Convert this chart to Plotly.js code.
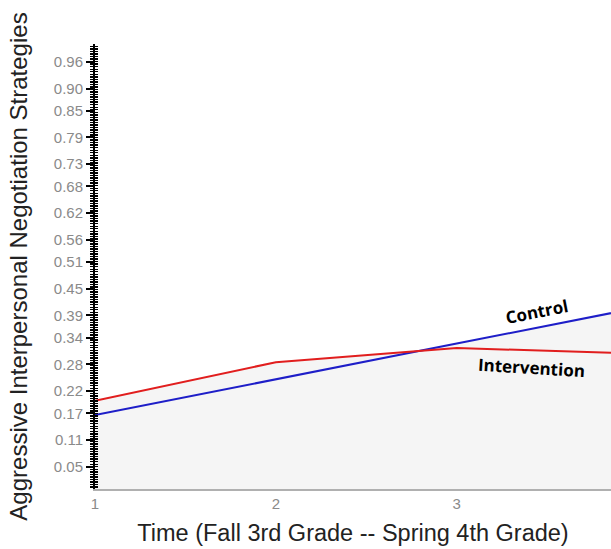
<!DOCTYPE html>
<html><head><meta charset="utf-8">
<script src="https://cdn.plot.ly/plotly-3.0.1.min.js"></script>
<style>html,body{margin:0;padding:0;background:#fff}#chart{width:611px;height:549px}</style>
</head><body><div id="chart"></div>
<script>
const timePoints = [1, 2, 3, 4];
const xTickLabels = ['1', '2', '3', '4'];
const controlValues = [0.166, 0.247, 0.327, 0.407];
const interventionValues = [0.198, 0.285, 0.317, 0.304];
const yTickLabels = ['0.05','0.11','0.17','0.22','0.28','0.34','0.39','0.45','0.51','0.56','0.62','0.68','0.73','0.79','0.85','0.90','0.96'];
const seriesNames = ['Control', 'Intervention'];

const fillColor = 'rgb(245,245,245)';
const traces = [
  {x: timePoints, y: controlValues, mode: 'lines', fill: 'tozeroy', fillcolor: fillColor, line: {width: 0, color: fillColor}, hoverinfo: 'skip', showlegend: false},
  {x: timePoints, y: interventionValues, mode: 'lines', fill: 'tozeroy', fillcolor: fillColor, line: {width: 0, color: fillColor}, hoverinfo: 'skip', showlegend: false},
  {x: timePoints, y: controlValues, yaxis: 'y2', mode: 'lines', opacity: 0, line: {width: 0}, hoverinfo: 'skip', showlegend: false},
  {x: timePoints, y: controlValues, name: seriesNames[0], mode: 'lines', line: {color: 'rgb(30,30,200)', width: 2}},
  {x: timePoints, y: interventionValues, name: seriesNames[1], mode: 'lines', line: {color: 'rgb(225,30,30)', width: 2}}
];

const minorTicks = {tick0: 0.05, dtick: 0.00569, ticklen: 3, tickwidth: 1.4, tickcolor: '#000', showgrid: false};

const layout = {
  width: 611, height: 549,
  margin: {l: 95, r: 0, t: 44, b: 60},
  paper_bgcolor: '#fff', plot_bgcolor: 'rgba(0,0,0,0)',
  showlegend: false,
  font: {family: 'Liberation Sans, Arial, sans-serif'},
  xaxis: {
    range: [1, 3.853], tickvals: timePoints, ticktext: xTickLabels,
    showgrid: false, zeroline: false, showline: true, linecolor: '#b0b0b0', linewidth: 2,
    ticks: '', tickfont: {size: 15, color: '#8a8a8a'},
    title: {text: 'Time (Fall 3rd Grade -- Spring 4th Grade)', font: {size: 23.5, color: '#222'}, standoff: 14}
  },
  yaxis: {
    range: [0, 1.0], tickvals: yTickLabels.map(Number), ticktext: yTickLabels,
    showgrid: false, zeroline: false, showline: true, linecolor: '#000', linewidth: 2,
    ticks: 'outside', ticklen: 7, tickwidth: 2, tickcolor: '#000',
    tickfont: {size: 15, color: '#8a8a8a'},
    minor: Object.assign({ticks: 'outside'}, minorTicks),
    title: {text: 'Aggressive Interpersonal Negotiation Strategies', font: {size: 24, color: '#222'}, standoff: 19}
  },
  yaxis2: {
    overlaying: 'y', side: 'left', range: [0, 1.0], showticklabels: false, showgrid: false, zeroline: false,
    showline: false, ticks: '', minor: Object.assign({ticks: 'inside'}, minorTicks)
  },
  annotations: [
    {x: 3.443, y: 0.40, xref: 'x', yref: 'y', text: '<b>' + seriesNames[0] + '</b>', showarrow: false, textangle: -11, font: {family: 'Open Sans, sans-serif', size: 17, color: '#000'}},
    {x: 3.415, y: 0.274, xref: 'x', yref: 'y', text: '<b>' + seriesNames[1] + '</b>', showarrow: false, textangle: 3.5, font: {family: 'Open Sans, sans-serif', size: 17, color: '#000'}}
  ]
};

Plotly.newPlot('chart', traces, layout, {displayModeBar: false, staticPlot: true});
</script></body></html>
